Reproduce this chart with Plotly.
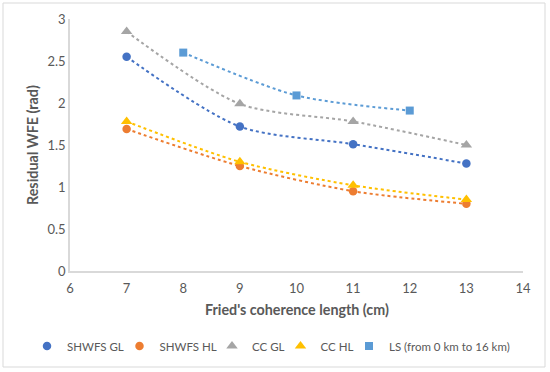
import plotly.graph_objects as go

x_main = [7, 9, 11, 13]
shwfs_gl = [2.55, 1.72, 1.51, 1.28]
shwfs_hl = [1.69, 1.25, 0.95, 0.80]
cc_gl = [2.85, 1.99, 1.78, 1.50]
cc_hl = [1.78, 1.30, 1.02, 0.85]
x_ls = [8, 10, 12]
ls = [2.60, 2.09, 1.91]

x_ticks = [6, 7, 8, 9, 10, 11, 12, 13, 14]
y_ticks = [0, 0.5, 1, 1.5, 2, 2.5, 3]
y_tick_labels = ["0", "0.5", "1", "1.5", "2", "2.5", "3"]
x_title = "Fried's coherence length (cm)"
y_title = "Residual WFE (rad)"

series = [
    ("SHWFS GL", x_main, shwfs_gl, "#4472C4", "circle", 8.5),
    ("SHWFS HL", x_main, shwfs_hl, "#ED7D31", "circle", 8.5),
    ("CC GL", x_main, cc_gl, "#A5A5A5", "triangle-up", 10),
    ("CC HL", x_main, cc_hl, "#FFC000", "triangle-up", 10),
    ("LS (from 0 km to 16 km)", x_ls, ls, "#5B9BD5", "square", 8),
]

W, H = 550, 372
ML, MR, MT, MB = 70, 27, 19, 101
PW = W - ML - MR
PH = H - MT - MB

FONT = "Lato, 'Open Sans', sans-serif"
GREY = "#595959"
fig = go.Figure()
for name, xs, ys, col, sym, sz in series:
    fig.add_trace(go.Scatter(
        x=xs, y=ys, mode="lines", showlegend=False, hoverinfo="skip",
        line=dict(color=col, width=2, dash="dot", shape="spline", smoothing=0.8),
    ))

legend_symbol_px = [47, 139.5, 232, 300.5, 369]
legend_layout = {}
for i, (name, xs, ys, col, sym, sz) in enumerate(series):
    lname = "legend" if i == 0 else f"legend{i+1}"
    fig.add_trace(go.Scatter(
        x=xs, y=ys, mode="markers", name=name, legend=lname,
        marker=dict(color=col, symbol=sym, size=sz),
    ))
    legend_layout[lname] = dict(
        x=(legend_symbol_px[i] - 20 - ML) / PW, xanchor="left",
        y=(H - MB - 346) / PH, yanchor="middle",
        font=dict(size=11.5, color=GREY), itemwidth=30,
        bgcolor="rgba(0,0,0,0)", borderwidth=0, itemclick=False,
    )

fig.update_layout(
    width=W, height=H,
    margin=dict(l=ML, r=MR, t=MT, b=MB, autoexpand=False),
    paper_bgcolor="white", plot_bgcolor="white",
    font=dict(family=FONT, size=13, color=GREY),
    showlegend=True,
    xaxis=dict(range=[6, 14], tickvals=x_ticks, showgrid=False, zeroline=False,
               showline=True, linecolor="#D9D9D9", linewidth=1.5, ticks="",
               ticklabelstandoff=5,
               automargin=False, tickfont=dict(size=13, color=GREY)),
    yaxis=dict(range=[0, 3], tickvals=y_ticks, ticktext=y_tick_labels, showgrid=False, zeroline=False,
               showline=True, linecolor="#D9D9D9", linewidth=1.5, ticks="",
               automargin=False, tickfont=dict(size=13, color=GREY)),
    annotations=[
        dict(text=f"<b>{x_title}</b>", xref="paper", yref="paper", x=0.5, y=(H - MB - 309) / PH,
             xanchor="center", yanchor="middle", showarrow=False, font=dict(size=14.3, color=GREY)),
        dict(text=f"<b>{y_title}</b>", xref="paper", yref="paper", x=(32 - ML) / PW, y=0.5,
             xanchor="center", yanchor="middle", textangle=-90, showarrow=False,
             font=dict(size=14.3, color=GREY)),
    ],
    shapes=[dict(type="rect", xref="paper", yref="paper",
                 x0=(3 - ML) / PW, x1=(545 - ML) / PW,
                 y0=(H - MB - 367) / PH, y1=(H - MB - 3) / PH,
                 line=dict(color="#D9D9D9", width=1), layer="below")],
    **legend_layout,
)
fig.write_html("out.html", config={"displayModeBar": False},
               post_script="document.body.style.margin='0';")
